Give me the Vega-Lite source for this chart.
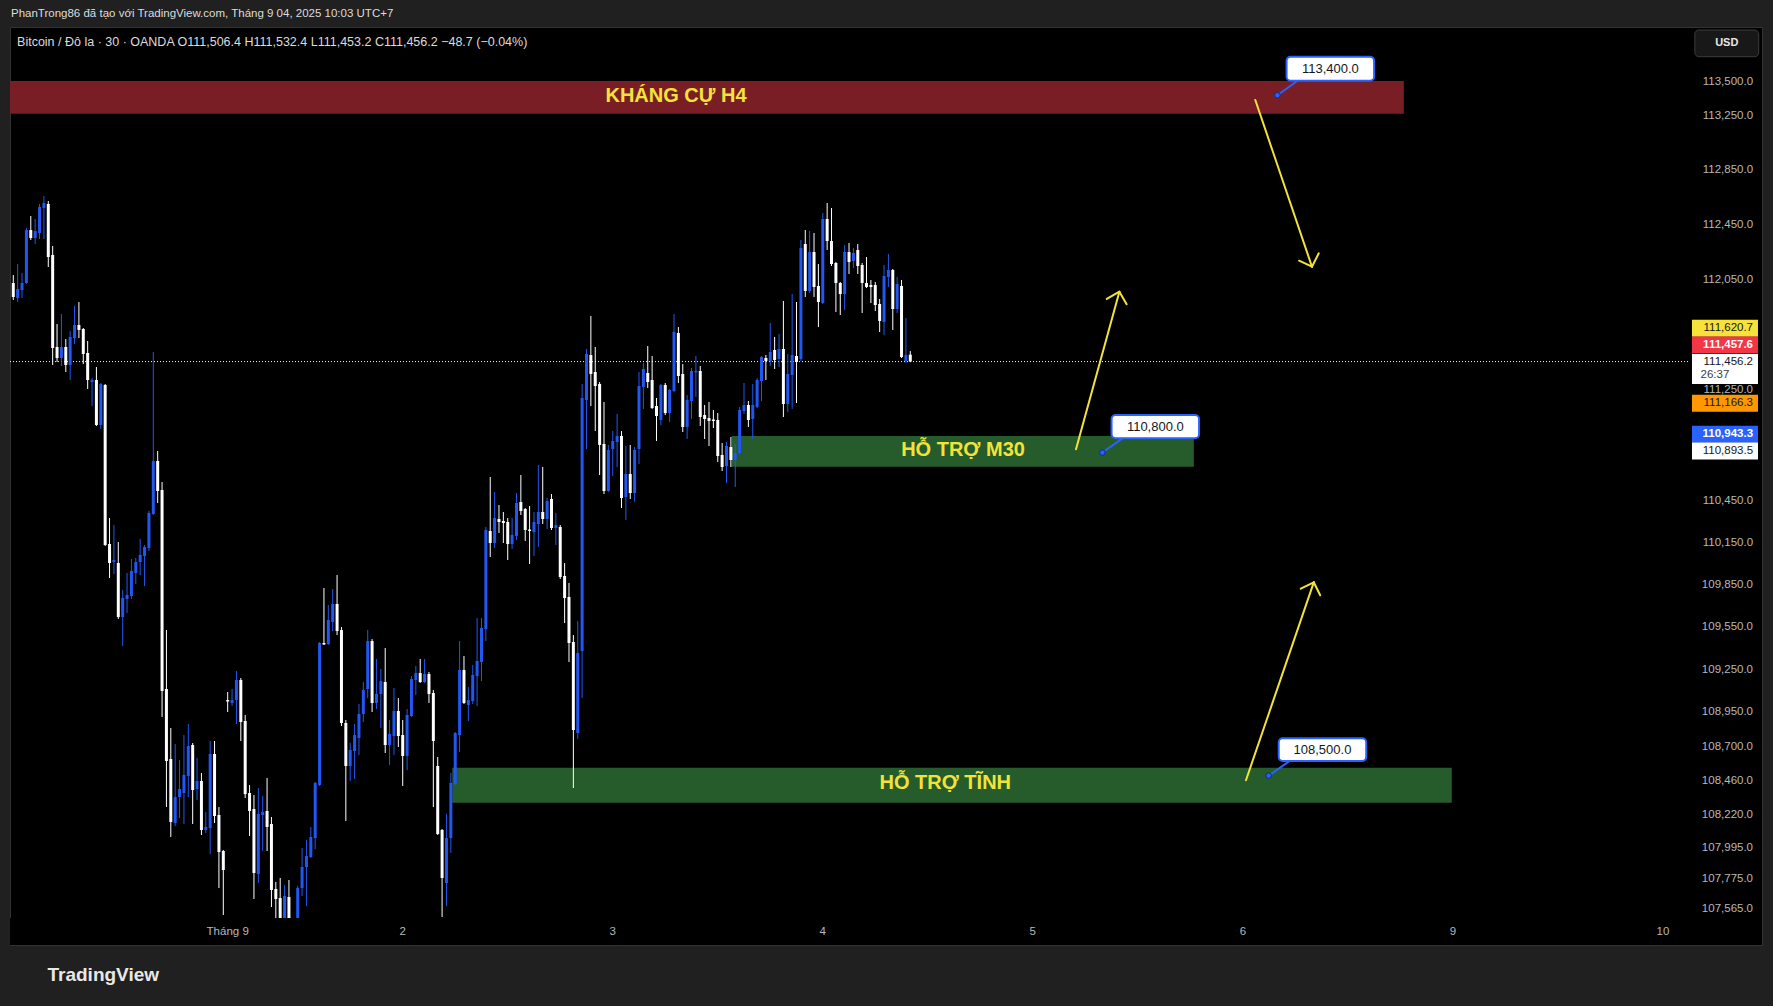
{
"$schema": "https://vega.github.io/schema/vega-lite/v6.json",
"width": 1752, "height": 918,
"autosize": {"type": "none"},
"padding": {"left": 10, "top": 27, "right": 11, "bottom": 61},
"background": "#202020",
"config": {"view": {"fill": "#000000", "stroke": "#333333", "strokeWidth": 1}, "font": "Liberation Sans"},
"datasets": {
"candles": [
{"i":1,"o":112026.3,"h":112084.5,"l":111902.7,"c":111924.5},
{"i":2,"o":111917.2,"h":112164.6,"l":111888.2,"c":111982.7},
{"i":3,"o":111975.4,"h":112099.1,"l":111917.2,"c":112026.3},
{"i":4,"o":112026.3,"h":112427.0,"l":112019.0,"c":112412.5},
{"i":5,"o":112412.5,"h":112514.6,"l":112339.5,"c":112354.1},
{"i":6,"o":112354.1,"h":112492.7,"l":112310.3,"c":112405.2},
{"i":7,"o":112390.6,"h":112602.4,"l":112346.8,"c":112580.4},
{"i":8,"o":112573.1,"h":112660.9,"l":112346.8,"c":112609.7},
{"i":9,"o":112602.4,"h":112624.3,"l":112142.7,"c":112215.6},
{"i":10,"o":112230.2,"h":112295.8,"l":111431.5,"c":111554.6},
{"i":11,"o":111561.8,"h":111728.5,"l":111453.2,"c":111482.2},
{"i":12,"o":111482.2,"h":111801.1,"l":111424.3,"c":111561.8},
{"i":13,"o":111561.8,"h":111619.8,"l":111381.0,"c":111431.5},
{"i":14,"o":111431.5,"h":111677.8,"l":111323.1,"c":111634.3},
{"i":15,"o":111627.0,"h":111859.1,"l":111583.5,"c":111721.3},
{"i":16,"o":111721.3,"h":111888.2,"l":111627.0,"c":111685.0},
{"i":17,"o":111692.3,"h":111699.5,"l":111438.8,"c":111511.1},
{"i":18,"o":111518.4,"h":111605.3,"l":111258.1,"c":111323.1},
{"i":19,"o":111308.7,"h":111337.6,"l":111135.3,"c":111323.1},
{"i":20,"o":111323.1,"h":111417.1,"l":110991.1,"c":110998.3},
{"i":21,"o":110998.3,"h":111301.4,"l":110969.5,"c":111294.2},
{"i":22,"o":111287.0,"h":111294.2,"l":110129.8,"c":110137.0},
{"i":23,"o":110144.1,"h":110330.2,"l":109901.2,"c":110008.4},
{"i":24,"o":110015.5,"h":110280.1,"l":109929.8,"c":110029.8},
{"i":25,"o":110008.4,"h":110158.4,"l":109609.0,"c":109623.3},
{"i":26,"o":109623.3,"h":109815.7,"l":109417.1,"c":109758.7},
{"i":27,"o":109751.5,"h":109937.0,"l":109651.8,"c":109780.0},
{"i":28,"o":109772.9,"h":110037.0,"l":109751.5,"c":109951.3},
{"i":29,"o":109937.0,"h":110044.1,"l":109858.4,"c":110015.5},
{"i":30,"o":110015.5,"h":110179.9,"l":109922.7,"c":110065.5},
{"i":31,"o":110058.4,"h":110137.0,"l":109844.2,"c":110122.7},
{"i":32,"o":110115.5,"h":110380.4,"l":110094.1,"c":110366.1},
{"i":33,"o":110358.9,"h":111525.6,"l":110351.8,"c":110739.2},
{"i":34,"o":110739.2,"h":110811.2,"l":110437.7,"c":110523.8},
{"i":35,"o":110531.0,"h":110588.4,"l":108914.0,"c":109098.0},
{"i":36,"o":109112.1,"h":109530.8,"l":108279.4,"c":108603.3},
{"i":37,"o":108617.4,"h":108836.2,"l":108068.8,"c":108174.1},
{"i":38,"o":108167.0,"h":108723.2,"l":108146.0,"c":108349.7},
{"i":39,"o":108349.7,"h":108610.3,"l":108202.2,"c":108405.9},
{"i":40,"o":108377.8,"h":108786.7,"l":108160.0,"c":108504.6},
{"i":41,"o":108497.5,"h":108864.4,"l":108349.7,"c":108709.1},
{"i":42,"o":108716.1,"h":108730.2,"l":108160.0,"c":108398.9},
{"i":43,"o":108405.9,"h":108624.4,"l":108328.6,"c":108462.3},
{"i":44,"o":108462.3,"h":108518.7,"l":108082.8,"c":108117.9},
{"i":45,"o":108117.9,"h":108244.3,"l":108096.8,"c":108139.0},
{"i":46,"o":108131.9,"h":108744.3,"l":107949.6,"c":108652.6},
{"i":47,"o":108652.6,"h":108744.3,"l":108167.0,"c":108216.2},
{"i":48,"o":108223.2,"h":108279.4,"l":107711.5,"c":107963.6},
{"i":49,"o":107970.6,"h":107977.6,"l":107522.9,"c":107837.5},
{"i":50,"o":109034.2,"h":109090.9,"l":108949.3,"c":109023.6},
{"i":51,"o":109013.0,"h":109112.1,"l":108991.8,"c":109034.2},
{"i":52,"o":109034.2,"h":109239.8,"l":108864.4,"c":109175.9},
{"i":53,"o":109175.9,"h":109190.1,"l":108744.3,"c":108878.6},
{"i":54,"o":108885.6,"h":108928.1,"l":108342.7,"c":108370.1},
{"i":55,"o":108377.8,"h":108434.1,"l":108075.8,"c":108251.3},
{"i":56,"o":108265.4,"h":108363.8,"l":107634.6,"c":107816.5},
{"i":57,"o":107809.5,"h":108413.0,"l":107746.5,"c":108230.3},
{"i":58,"o":108223.2,"h":108356.7,"l":107970.6,"c":108244.3},
{"i":59,"o":108251.3,"h":108483.4,"l":107970.6,"c":108139.0},
{"i":60,"o":108160.0,"h":108209.2,"l":107578.7,"c":107697.6},
{"i":61,"o":107704.5,"h":107753.5,"l":107453.2,"c":107634.6},
{"i":62,"o":107641.6,"h":107781.5,"l":107404.4,"c":107446.2},
{"i":63,"o":107439.2,"h":107732.5,"l":107390.5,"c":107655.6},
{"i":64,"o":107648.6,"h":107767.5,"l":107397.5,"c":107453.2},
{"i":65,"o":107383.5,"h":107488.0,"l":107348.6,"c":107460.1},
{"i":66,"o":107460.1,"h":107725.5,"l":107418.3,"c":107711.5},
{"i":67,"o":107711.5,"h":107991.6,"l":107655.6,"c":107858.5},
{"i":68,"o":107858.5,"h":108047.7,"l":107585.7,"c":107935.5},
{"i":69,"o":107928.5,"h":108139.0,"l":107921.5,"c":108068.8},
{"i":70,"o":108061.7,"h":108455.3,"l":107984.6,"c":108448.2},
{"i":71,"o":108434.1,"h":109445.5,"l":108427.1,"c":109438.4},
{"i":72,"o":109438.4,"h":109829.9,"l":109424.2,"c":109427.8},
{"i":73,"o":109431.3,"h":109708.8,"l":109424.2,"c":109601.9},
{"i":74,"o":109587.7,"h":109822.8,"l":109523.7,"c":109715.9},
{"i":75,"o":109715.9,"h":109922.7,"l":109495.3,"c":109523.7},
{"i":76,"o":109530.8,"h":109552.1,"l":108850.3,"c":108871.5},
{"i":77,"o":108871.5,"h":108892.7,"l":108181.1,"c":108568.0},
{"i":78,"o":108568.0,"h":108730.2,"l":108462.3,"c":108680.9},
{"i":79,"o":108673.8,"h":108864.4,"l":108476.4,"c":108786.7},
{"i":80,"o":108765.5,"h":109005.9,"l":108645.6,"c":108935.2},
{"i":81,"o":108935.2,"h":109161.7,"l":108878.6,"c":109105.0},
{"i":82,"o":109112.1,"h":109530.8,"l":109048.4,"c":109452.6},
{"i":83,"o":109452.6,"h":109466.8,"l":108949.3,"c":109013.0},
{"i":84,"o":109013.0,"h":109324.9,"l":108970.5,"c":109076.7},
{"i":85,"o":109076.7,"h":109254.0,"l":108836.2,"c":109168.8},
{"i":86,"o":109161.7,"h":109403.0,"l":108659.7,"c":108716.1},
{"i":87,"o":108716.1,"h":108892.7,"l":108575.1,"c":108793.8},
{"i":88,"o":108779.7,"h":109119.2,"l":108645.6,"c":108956.4},
{"i":89,"o":108956.4,"h":109048.4,"l":108702.0,"c":108779.7},
{"i":90,"o":108786.7,"h":108892.7,"l":108427.1,"c":108638.6},
{"i":91,"o":108638.6,"h":108970.5,"l":108539.8,"c":108928.1},
{"i":92,"o":108921.0,"h":109204.3,"l":108914.0,"c":109183.0},
{"i":93,"o":109175.9,"h":109275.3,"l":109069.6,"c":109225.6},
{"i":94,"o":109225.6,"h":109324.9,"l":109154.6,"c":109161.7},
{"i":95,"o":109161.7,"h":109324.9,"l":109154.6,"c":109218.5},
{"i":96,"o":109218.5,"h":109232.7,"l":109013.0,"c":109076.7},
{"i":97,"o":109083.8,"h":109105.0,"l":108279.4,"c":108744.3},
{"i":98,"o":108568.0,"h":108631.5,"l":108082.8,"c":108089.8},
{"i":99,"o":108117.9,"h":108125.0,"l":107509.0,"c":107781.5},
{"i":100,"o":107746.5,"h":108230.3,"l":107585.7,"c":108061.7},
{"i":101,"o":108061.7,"h":108518.7,"l":107956.6,"c":108448.2},
{"i":102,"o":108441.1,"h":108807.9,"l":108434.1,"c":108800.8},
{"i":103,"o":108786.7,"h":109452.6,"l":108666.8,"c":109246.9},
{"i":104,"o":109246.9,"h":109346.2,"l":109005.9,"c":109013.0},
{"i":105,"o":108998.8,"h":109126.2,"l":108885.6,"c":109034.2},
{"i":106,"o":109027.1,"h":109282.4,"l":109005.9,"c":109211.4},
{"i":107,"o":109204.3,"h":109616.2,"l":108991.8,"c":109310.7},
{"i":108,"o":109303.6,"h":109616.2,"l":109168.8,"c":109545.0},
{"i":109,"o":109537.9,"h":110265.8,"l":109452.6,"c":110244.1},
{"i":110,"o":110237.1,"h":110624.3,"l":110051.2,"c":110151.3},
{"i":111,"o":110151.3,"h":110516.6,"l":110115.5,"c":110330.2},
{"i":112,"o":110323.1,"h":110423.4,"l":110222.6,"c":110301.6},
{"i":113,"o":110308.8,"h":110373.2,"l":110151.3,"c":110294.5},
{"i":114,"o":110301.6,"h":110330.2,"l":110029.8,"c":110144.1},
{"i":115,"o":110144.1,"h":110330.2,"l":110108.4,"c":110208.5},
{"i":116,"o":110201.4,"h":110509.4,"l":110172.7,"c":110437.7},
{"i":117,"o":110444.9,"h":110638.6,"l":110351.8,"c":110380.4},
{"i":118,"o":110394.7,"h":110401.9,"l":110165.6,"c":110244.1},
{"i":119,"o":110247.7,"h":110416.2,"l":110001.3,"c":110237.1},
{"i":120,"o":110229.9,"h":110373.2,"l":110058.4,"c":110301.6},
{"i":121,"o":110287.3,"h":110710.5,"l":110122.7,"c":110373.2},
{"i":122,"o":110373.2,"h":110696.1,"l":110287.3,"c":110323.1},
{"i":123,"o":110323.1,"h":110473.6,"l":110251.2,"c":110452.0},
{"i":124,"o":110466.4,"h":110502.2,"l":110244.1,"c":110258.4},
{"i":125,"o":110258.4,"h":110366.1,"l":110137.0,"c":110280.1},
{"i":126,"o":110265.8,"h":110280.1,"l":109894.0,"c":109908.3},
{"i":127,"o":109915.5,"h":110008.4,"l":109580.6,"c":109758.7},
{"i":128,"o":109765.8,"h":109865.6,"l":109303.6,"c":109438.4},
{"i":129,"o":109445.5,"h":109495.3,"l":108413.0,"c":108822.1},
{"i":130,"o":108800.8,"h":109594.8,"l":108758.4,"c":109367.5},
{"i":131,"o":109381.7,"h":111294.2,"l":109048.4,"c":111193.1},
{"i":132,"o":111178.6,"h":111547.3,"l":110825.7,"c":111511.1},
{"i":133,"o":111503.9,"h":111786.5,"l":111135.3,"c":111366.5},
{"i":134,"o":111381.0,"h":111561.8,"l":110955.1,"c":111279.8},
{"i":135,"o":111294.2,"h":111308.7,"l":110638.6,"c":110854.3},
{"i":136,"o":110861.5,"h":111164.2,"l":110502.2,"c":110523.8},
{"i":137,"o":110523.8,"h":110854.3,"l":110516.6,"c":110818.4},
{"i":138,"o":110825.7,"h":110955.1,"l":110631.5,"c":110883.1},
{"i":139,"o":110875.9,"h":111077.6,"l":110696.1,"c":110919.1},
{"i":140,"o":110919.1,"h":110955.1,"l":110401.9,"c":110473.6},
{"i":141,"o":110480.8,"h":110847.1,"l":110315.9,"c":110645.8},
{"i":142,"o":110645.8,"h":110854.3,"l":110466.4,"c":110509.4},
{"i":143,"o":110509.4,"h":110839.9,"l":110444.9,"c":110818.4},
{"i":144,"o":110825.7,"h":111381.0,"l":110717.7,"c":111279.8},
{"i":145,"o":111272.5,"h":111446.0,"l":111113.7,"c":111402.6},
{"i":146,"o":111373.8,"h":111569.0,"l":111265.3,"c":111308.7},
{"i":147,"o":111323.1,"h":111496.7,"l":111113.7,"c":111120.9},
{"i":148,"o":111135.3,"h":111193.1,"l":110883.1,"c":111063.2},
{"i":149,"o":111034.3,"h":111294.2,"l":110998.3,"c":111287.0},
{"i":150,"o":111287.0,"h":111301.4,"l":111070.4,"c":111084.8},
{"i":151,"o":111084.8,"h":111258.1,"l":111019.9,"c":111250.9},
{"i":152,"o":111243.6,"h":111801.1,"l":111236.4,"c":111670.5},
{"i":153,"o":111663.3,"h":111706.8,"l":111301.4,"c":111352.0},
{"i":154,"o":111366.5,"h":111438.8,"l":110947.9,"c":110983.9},
{"i":155,"o":110983.9,"h":111214.7,"l":110897.5,"c":111178.6},
{"i":156,"o":111171.4,"h":111409.9,"l":111041.5,"c":111388.2},
{"i":157,"o":111377.4,"h":111496.7,"l":111200.3,"c":111388.2},
{"i":158,"o":111388.2,"h":111424.3,"l":110991.1,"c":111056.0},
{"i":159,"o":111070.4,"h":111142.5,"l":110897.5,"c":111041.5},
{"i":160,"o":111048.7,"h":111164.2,"l":110847.1,"c":111027.1},
{"i":161,"o":111037.9,"h":111106.5,"l":110976.7,"c":111027.1},
{"i":162,"o":111034.3,"h":111084.8,"l":110732.0,"c":110775.2},
{"i":163,"o":110782.4,"h":110868.7,"l":110667.3,"c":110696.1},
{"i":164,"o":110703.3,"h":110875.9,"l":110581.2,"c":110847.1},
{"i":165,"o":110839.9,"h":110911.9,"l":110696.1,"c":110746.4},
{"i":166,"o":110746.4,"h":110861.5,"l":110552.5,"c":110796.8},
{"i":167,"o":110796.8,"h":111128.1,"l":110789.6,"c":111106.5},
{"i":168,"o":111099.2,"h":111301.4,"l":111077.6,"c":111142.5},
{"i":169,"o":111142.5,"h":111171.4,"l":110983.9,"c":111034.3},
{"i":170,"o":111041.5,"h":111294.2,"l":110897.5,"c":111142.5},
{"i":171,"o":111128.1,"h":111337.6,"l":111120.9,"c":111323.1},
{"i":172,"o":111315.9,"h":111496.7,"l":111171.4,"c":111489.4},
{"i":173,"o":111482.2,"h":111503.9,"l":111323.1,"c":111460.5},
{"i":174,"o":111460.5,"h":111735.8,"l":111424.3,"c":111525.6},
{"i":175,"o":111540.1,"h":111634.3,"l":111402.6,"c":111467.7},
{"i":176,"o":111474.9,"h":111656.0,"l":111417.1,"c":111547.3},
{"i":177,"o":111547.3,"h":111895.4,"l":111056.0,"c":111150.0},
{"i":178,"o":111150.0,"h":111511.1,"l":111092.0,"c":111366.5},
{"i":179,"o":111359.3,"h":111946.3,"l":111113.7,"c":111503.9},
{"i":180,"o":111496.7,"h":111888.2,"l":111157.0,"c":111453.2},
{"i":181,"o":111474.9,"h":112339.5,"l":111460.5,"c":112281.2},
{"i":182,"o":112310.3,"h":112412.5,"l":111924.5,"c":111968.1},
{"i":183,"o":111968.1,"h":112405.2,"l":111953.6,"c":112252.1},
{"i":184,"o":112252.1,"h":112390.6,"l":111924.5,"c":111997.2},
{"i":185,"o":112004.5,"h":112164.6,"l":111706.8,"c":111888.2},
{"i":186,"o":111880.9,"h":112536.6,"l":111873.7,"c":112492.7},
{"i":187,"o":112492.7,"h":112609.7,"l":112266.6,"c":112332.2},
{"i":188,"o":112332.2,"h":112573.1,"l":112150.0,"c":112164.6},
{"i":189,"o":112171.9,"h":112179.1,"l":111815.6,"c":112026.3},
{"i":190,"o":112026.3,"h":112033.6,"l":111793.8,"c":111946.3},
{"i":191,"o":111946.3,"h":112303.0,"l":111830.1,"c":112252.1},
{"i":192,"o":112252.1,"h":112317.6,"l":112091.8,"c":112179.1},
{"i":193,"o":112186.4,"h":112281.2,"l":112135.4,"c":112244.8},
{"i":194,"o":112266.6,"h":112310.3,"l":112091.8,"c":112150.0},
{"i":195,"o":112157.3,"h":112171.9,"l":111808.4,"c":112026.3},
{"i":196,"o":112026.3,"h":112215.6,"l":111990.0,"c":111997.2},
{"i":197,"o":112011.8,"h":112048.1,"l":111880.9,"c":111997.2},
{"i":198,"o":112011.8,"h":112033.6,"l":111822.9,"c":111866.4},
{"i":199,"o":111873.7,"h":111910.0,"l":111670.5,"c":111750.3},
{"i":200,"o":111743.0,"h":112157.3,"l":111648.7,"c":112077.2},
{"i":201,"o":112070.0,"h":112237.5,"l":111997.2,"c":112120.9},
{"i":202,"o":112120.9,"h":112128.2,"l":111685.0,"c":111837.3},
{"i":203,"o":111837.3,"h":112070.0,"l":111808.4,"c":112019.0},
{"i":204,"o":112004.5,"h":112048.1,"l":111482.2,"c":111489.4},
{"i":205,"o":111460.5,"h":111772.0,"l":111446.0,"c":111505.0},
{"i":206,"o":111506.4,"h":111532.4,"l":111453.2,"c":111456.2}
],
"zones": [
{"zone":"resistance","i1":0.25,"i2":318.8,"p1":113265,"p2":113505},
{"zone":"support","i1":165.2,"i2":270.8,"p1":110698,"p2":110919},
{"zone":"support","i1":101.33,"i2":329.75,"p1":108308.9,"p2":108555.3}
],
"zoneLabels": [
{"t":"KHÁNG CỰ H4","i":152.45,"p":113394.7},
{"t":"HỖ TRỢ M30","i":218.05,"p":110818.3},
{"t":"HỖ TRỢ TĨNH","i":214.0,"p":108451.7}
],
"arrows": [
{"i1":284.85,"p1":113365.2,"i2":297.8,"p2":112144.9},
{"i1":297.8,"p1":112144.9,"i2":294.85,"p2":112188.6},
{"i1":297.8,"p1":112144.9,"i2":299.35,"p2":112242.5},
{"i1":243.87,"p1":110823.4,"i2":253.79,"p2":111963.0},
{"i1":253.79,"p1":111963.0,"i2":250.91,"p2":111910.7},
{"i1":253.79,"p1":111963.0,"i2":255.44,"p2":111871.5},
{"i1":282.72,"p1":108467.9,"i2":298.21,"p2":109870.5},
{"i1":298.21,"p1":109870.5,"i2":295.24,"p2":109824.9},
{"i1":298.21,"p1":109870.5,"i2":299.68,"p2":109777.9}
],
"notes": [
{"p":113400,"di":289.9,"qi":294.5,"bi1":292.0,"bi2":312.0,"bpTop":113684.4,"bpBot":113507.4,"ci":302.0,"cp":113595.8},
{"p":110800,"di":249.9,"qi":254.5,"bi1":252.0,"bi2":272.0,"bpTop":111070.4,"bpBot":110902.5,"ci":262.0,"cp":110986.4},
{"p":108500,"di":287.9,"qi":292.7,"bi1":290.2,"bi2":310.2,"bpTop":108763.4,"bpBot":108603.3,"ci":300.2,"cp":108683.3}
],
"days": [
{"t":"Tháng 9","i":50,"p":107404.3},
{"t":"2","i":90,"p":107404.3},
{"t":"3","i":138,"p":107404.3},
{"t":"4","i":186,"p":107404.3},
{"t":"5","i":234,"p":107404.3},
{"t":"6","i":282,"p":107404.3},
{"t":"9","i":330,"p":107404.3},
{"t":"10","i":378,"p":107404.3}
],
"priceTicks": [
{"p":113500},{"p":113250},{"p":112850},{"p":112450},{"p":112050},{"p":111250},{"p":110450},{"p":110150},{"p":109850},{"p":109550},{"p":109250},{"p":108950},{"p":108700},{"p":108460},{"p":108220},{"p":107995},{"p":107775},{"p":107565}
]
},
"layer": [
{"data": {"name": "zones"}, "mark": {"type": "rect", "clip": true},
 "encoding": {
  "x": {"field": "i1", "type": "quantitative", "scale": {"type": "linear", "domain": [0.25, 400.65], "nice": false, "zero": false, "padding": 0}, "axis": null},
  "x2": {"field": "i2"},
  "y": {"field": "p1", "type": "quantitative", "scale": {"type": "log", "domain": [107313.7, 113903.8], "nice": false, "padding": 0}, "axis": null},
  "y2": {"field": "p2"},
  "color": {"condition": {"test": "datum.zone == 'resistance'", "value": "#7a1e26"}, "value": "#265b2b"}}},
{"data": {"values": [{"p": 111456.2, "i1": 0.25, "i2": 384.2}]}, "mark": {"type": "rule", "color": "#ffffff", "strokeDash": [1, 2], "strokeWidth": 1},
 "encoding": {
  "x": {"field": "i1", "type": "quantitative", "scale": {"type": "linear", "domain": [0.25, 400.65], "nice": false, "zero": false, "padding": 0}, "axis": null},
  "x2": {"field": "i2"},
  "y": {"field": "p", "type": "quantitative", "scale": {"type": "log", "domain": [107313.7, 113903.8], "nice": false, "padding": 0}, "axis": null}}},
{"data": {"name": "candles"}, "mark": {"type": "rule", "strokeWidth": 1, "clip": true},
 "encoding": {
  "x": {"field": "i", "type": "quantitative", "scale": {"type": "linear", "domain": [0.25, 400.65], "nice": false, "zero": false, "padding": 0}, "axis": null},
  "y": {"field": "l", "type": "quantitative", "scale": {"type": "log", "domain": [107313.7, 113903.8], "nice": false, "padding": 0}, "axis": null},
  "y2": {"field": "h"},
  "color": {"condition": {"test": "datum.c >= datum.o", "value": "#2157f3"}, "value": "#ffffff"}}},
{"data": {"name": "candles"}, "mark": {"type": "bar", "size": 3, "clip": true},
 "encoding": {
  "x": {"field": "i", "type": "quantitative", "scale": {"type": "linear", "domain": [0.25, 400.65], "nice": false, "zero": false, "padding": 0}, "axis": null},
  "y": {"field": "o", "type": "quantitative", "scale": {"type": "log", "domain": [107313.7, 113903.8], "nice": false, "padding": 0}, "axis": null},
  "y2": {"field": "c"},
  "color": {"condition": {"test": "datum.c >= datum.o", "value": "#2157f3"}, "value": "#ffffff"}}},
{"data": {"values": [{"i1": 0.25, "i2": 400.65, "p1": 107313.7, "p2": 107502}]}, "mark": {"type": "rect", "color": "#000000"},
 "encoding": {
  "x": {"field": "i1", "type": "quantitative", "scale": {"type": "linear", "domain": [0.25, 400.65], "nice": false, "zero": false, "padding": 0}, "axis": null},
  "x2": {"field": "i2"},
  "y": {"field": "p1", "type": "quantitative", "scale": {"type": "log", "domain": [107313.7, 113903.8], "nice": false, "padding": 0}, "axis": null},
  "y2": {"field": "p2"}}},
{"data": {"name": "days"}, "mark": {"type": "text", "font": "Liberation Sans", "fontSize": 11.5, "color": "#b8b8b8", "align": "center", "baseline": "middle"},
 "encoding": {
  "x": {"field": "i", "type": "quantitative", "scale": {"type": "linear", "domain": [0.25, 400.65], "nice": false, "zero": false, "padding": 0}, "axis": null},
  "y": {"field": "p", "type": "quantitative", "scale": {"type": "log", "domain": [107313.7, 113903.8], "nice": false, "padding": 0}, "axis": null},
  "text": {"field": "t"}}},
{"data": {"name": "priceTicks"}, "mark": {"type": "text", "font": "Liberation Sans", "fontSize": 11.5, "color": "#b8b8b8", "align": "right", "baseline": "middle"},
 "encoding": {
  "x": {"datum": 398.6, "type": "quantitative", "scale": {"type": "linear", "domain": [0.25, 400.65], "nice": false, "zero": false, "padding": 0}, "axis": null},
  "y": {"field": "p", "type": "quantitative", "scale": {"type": "log", "domain": [107313.7, 113903.8], "nice": false, "padding": 0}, "axis": null},
  "text": {"field": "p", "type": "quantitative", "format": ",.1f"}}},
{"data": {"name": "zoneLabels"}, "mark": {"type": "text", "font": "Liberation Sans", "fontSize": 20, "fontWeight": "bold", "color": "#f2e33a", "align": "center", "baseline": "middle"},
 "encoding": {
  "x": {"field": "i", "type": "quantitative", "scale": {"type": "linear", "domain": [0.25, 400.65], "nice": false, "zero": false, "padding": 0}, "axis": null},
  "y": {"field": "p", "type": "quantitative", "scale": {"type": "log", "domain": [107313.7, 113903.8], "nice": false, "padding": 0}, "axis": null},
  "text": {"field": "t"}}},
{"data": {"name": "arrows"}, "mark": {"type": "rule", "color": "#f2e33a", "strokeWidth": 2, "strokeCap": "round"},
 "encoding": {
  "x": {"field": "i1", "type": "quantitative", "scale": {"type": "linear", "domain": [0.25, 400.65], "nice": false, "zero": false, "padding": 0}, "axis": null},
  "x2": {"field": "i2"},
  "y": {"field": "p1", "type": "quantitative", "scale": {"type": "log", "domain": [107313.7, 113903.8], "nice": false, "padding": 0}, "axis": null},
  "y2": {"field": "p2"}}},
{"data": {"name": "notes"},
 "layer": [
  {"mark": {"type": "rule", "color": "#2962ff", "strokeWidth": 2},
   "encoding": {
    "x": {"field": "di", "type": "quantitative", "scale": {"type": "linear", "domain": [0.25, 400.65], "nice": false, "zero": false, "padding": 0}, "axis": null},
    "x2": {"field": "qi"},
    "y": {"field": "p", "type": "quantitative", "scale": {"type": "log", "domain": [107313.7, 113903.8], "nice": false, "padding": 0}, "axis": null},
    "y2": {"field": "bpBot"}}},
  {"mark": {"type": "rect", "fill": "#ffffff", "stroke": "#2962ff", "strokeWidth": 2, "cornerRadius": 4},
   "encoding": {
    "x": {"field": "bi1", "type": "quantitative", "scale": {"type": "linear", "domain": [0.25, 400.65], "nice": false, "zero": false, "padding": 0}, "axis": null},
    "x2": {"field": "bi2"},
    "y": {"field": "bpTop", "type": "quantitative", "scale": {"type": "log", "domain": [107313.7, 113903.8], "nice": false, "padding": 0}, "axis": null},
    "y2": {"field": "bpBot"}}},
  {"mark": {"type": "circle", "size": 30, "color": "#2962ff", "stroke": "#0d2a8c", "strokeWidth": 1, "opacity": 1},
   "encoding": {
    "x": {"field": "di", "type": "quantitative", "scale": {"type": "linear", "domain": [0.25, 400.65], "nice": false, "zero": false, "padding": 0}, "axis": null},
    "y": {"field": "p", "type": "quantitative", "scale": {"type": "log", "domain": [107313.7, 113903.8], "nice": false, "padding": 0}, "axis": null}}},
  {"mark": {"type": "text", "font": "Liberation Sans", "fontSize": 13, "color": "#131722", "align": "center", "baseline": "middle"},
   "encoding": {
    "x": {"field": "ci", "type": "quantitative", "scale": {"type": "linear", "domain": [0.25, 400.65], "nice": false, "zero": false, "padding": 0}, "axis": null},
    "y": {"field": "cp", "type": "quantitative", "scale": {"type": "log", "domain": [107313.7, 113903.8], "nice": false, "padding": 0}, "axis": null},
    "text": {"field": "p", "type": "quantitative", "format": ",.1f"}}}
 ]},
{"data": {"values": [{"v": 111620.7}]},
 "encoding": {"y": {"field": "v", "type": "quantitative", "scale": {"type": "log", "domain": [107313.7, 113903.8], "nice": false, "padding": 0}, "axis": null}},
 "layer": [
  {"mark": {"type": "tick", "orient": "horizontal", "size": 66, "thickness": 17, "color": "#f7e23a", "opacity": 1, "yOffset": -10.6},
   "encoding": {"x": {"datum": 392.19, "type": "quantitative", "scale": {"type": "linear", "domain": [0.25, 400.65], "nice": false, "zero": false, "padding": 0}, "axis": null}}},
  {"mark": {"type": "text", "align": "right", "baseline": "middle", "font": "Liberation Sans", "fontSize": 11.5, "color": "#131722", "yOffset": -10.6},
   "encoding": {"x": {"datum": 398.6, "type": "quantitative", "scale": {"type": "linear", "domain": [0.25, 400.65], "nice": false, "zero": false, "padding": 0}, "axis": null}, "text": {"field": "v", "type": "quantitative", "format": ",.1f"}}}
 ]},
{"data": {"values": [{"v": 111457.6}]},
 "encoding": {"y": {"field": "v", "type": "quantitative", "scale": {"type": "log", "domain": [107313.7, 113903.8], "nice": false, "padding": 0}, "axis": null}},
 "layer": [
  {"mark": {"type": "tick", "orient": "horizontal", "size": 66, "thickness": 17, "color": "#f23645", "opacity": 1, "yOffset": -16.4},
   "encoding": {"x": {"datum": 392.19, "type": "quantitative", "scale": {"type": "linear", "domain": [0.25, 400.65], "nice": false, "zero": false, "padding": 0}, "axis": null}}},
  {"mark": {"type": "text", "align": "right", "baseline": "middle", "font": "Liberation Sans", "fontSize": 11.5, "fontWeight": "bold", "color": "#ffffff", "yOffset": -16.4},
   "encoding": {"x": {"datum": 398.6, "type": "quantitative", "scale": {"type": "linear", "domain": [0.25, 400.65], "nice": false, "zero": false, "padding": 0}, "axis": null}, "text": {"field": "v", "type": "quantitative", "format": ",.1f"}}}
 ]},
{"data": {"values": [{"v": 111456.2, "t": "26:37"}]},
 "encoding": {"y": {"field": "v", "type": "quantitative", "scale": {"type": "log", "domain": [107313.7, 113903.8], "nice": false, "padding": 0}, "axis": null}},
 "layer": [
  {"mark": {"type": "tick", "orient": "horizontal", "size": 66, "thickness": 30, "color": "#ffffff", "opacity": 1, "yOffset": 7.4},
   "encoding": {"x": {"datum": 392.19, "type": "quantitative", "scale": {"type": "linear", "domain": [0.25, 400.65], "nice": false, "zero": false, "padding": 0}, "axis": null}}},
  {"mark": {"type": "text", "align": "right", "baseline": "middle", "font": "Liberation Sans", "fontSize": 11.5, "color": "#131722"},
   "encoding": {"x": {"datum": 398.6, "type": "quantitative", "scale": {"type": "linear", "domain": [0.25, 400.65], "nice": false, "zero": false, "padding": 0}, "axis": null}, "text": {"field": "v", "type": "quantitative", "format": ",.1f"}}},
  {"mark": {"type": "text", "align": "left", "baseline": "middle", "font": "Liberation Sans", "fontSize": 11.5, "color": "#3a3e4a", "yOffset": 13.5},
   "encoding": {"x": {"datum": 386.6, "type": "quantitative", "scale": {"type": "linear", "domain": [0.25, 400.65], "nice": false, "zero": false, "padding": 0}, "axis": null}, "text": {"field": "t"}}}
 ]},
{"data": {"values": [{"v": 111166.3}]},
 "encoding": {"y": {"field": "v", "type": "quantitative", "scale": {"type": "log", "domain": [107313.7, 113903.8], "nice": false, "padding": 0}, "axis": null}},
 "layer": [
  {"mark": {"type": "tick", "orient": "horizontal", "size": 66, "thickness": 17, "color": "#ff9800", "opacity": 1, "yOffset": 1.6},
   "encoding": {"x": {"datum": 392.19, "type": "quantitative", "scale": {"type": "linear", "domain": [0.25, 400.65], "nice": false, "zero": false, "padding": 0}, "axis": null}}},
  {"mark": {"type": "text", "align": "right", "baseline": "middle", "font": "Liberation Sans", "fontSize": 11.5, "color": "#131722", "yOffset": 1.6},
   "encoding": {"x": {"datum": 398.6, "type": "quantitative", "scale": {"type": "linear", "domain": [0.25, 400.65], "nice": false, "zero": false, "padding": 0}, "axis": null}, "text": {"field": "v", "type": "quantitative", "format": ",.1f"}}}
 ]},
{"data": {"values": [{"v": 110943.3}]},
 "encoding": {"y": {"field": "v", "type": "quantitative", "scale": {"type": "log", "domain": [107313.7, 113903.8], "nice": false, "padding": 0}, "axis": null}},
 "layer": [
  {"mark": {"type": "tick", "orient": "horizontal", "size": 66, "thickness": 17, "color": "#2962ff", "opacity": 1, "yOffset": 1.7},
   "encoding": {"x": {"datum": 392.19, "type": "quantitative", "scale": {"type": "linear", "domain": [0.25, 400.65], "nice": false, "zero": false, "padding": 0}, "axis": null}}},
  {"mark": {"type": "text", "align": "right", "baseline": "middle", "font": "Liberation Sans", "fontSize": 11.5, "fontWeight": "bold", "color": "#ffffff", "yOffset": 1.7},
   "encoding": {"x": {"datum": 398.6, "type": "quantitative", "scale": {"type": "linear", "domain": [0.25, 400.65], "nice": false, "zero": false, "padding": 0}, "axis": null}, "text": {"field": "v", "type": "quantitative", "format": ",.1f"}}}
 ]},
{"data": {"values": [{"v": 110893.5}]},
 "encoding": {"y": {"field": "v", "type": "quantitative", "scale": {"type": "log", "domain": [107313.7, 113903.8], "nice": false, "padding": 0}, "axis": null}},
 "layer": [
  {"mark": {"type": "tick", "orient": "horizontal", "size": 66, "thickness": 17, "color": "#ffffff", "opacity": 1, "yOffset": 11.4},
   "encoding": {"x": {"datum": 392.19, "type": "quantitative", "scale": {"type": "linear", "domain": [0.25, 400.65], "nice": false, "zero": false, "padding": 0}, "axis": null}}},
  {"mark": {"type": "text", "align": "right", "baseline": "middle", "font": "Liberation Sans", "fontSize": 11.5, "color": "#131722", "yOffset": 11.4},
   "encoding": {"x": {"datum": 398.6, "type": "quantitative", "scale": {"type": "linear", "domain": [0.25, 400.65], "nice": false, "zero": false, "padding": 0}, "axis": null}, "text": {"field": "v", "type": "quantitative", "format": ",.1f"}}}
 ]},
{"data": {"values": [{"i1": 385.3, "i2": 399.9, "p1": 113684.4, "p2": 113881.6, "ci": 392.6, "cp": 113783.3, "t": "USD"}]},
 "layer": [
  {"mark": {"type": "rect", "fill": "#181818", "stroke": "#3c3c3c", "strokeWidth": 1, "cornerRadius": 4},
   "encoding": {
    "x": {"field": "i1", "type": "quantitative", "scale": {"type": "linear", "domain": [0.25, 400.65], "nice": false, "zero": false, "padding": 0}, "axis": null},
    "x2": {"field": "i2"},
    "y": {"field": "p1", "type": "quantitative", "scale": {"type": "log", "domain": [107313.7, 113903.8], "nice": false, "padding": 0}, "axis": null},
    "y2": {"field": "p2"}}},
  {"mark": {"type": "text", "font": "Liberation Sans", "fontSize": 11, "fontWeight": "bold", "color": "#e8e8e8", "align": "center", "baseline": "middle"},
   "encoding": {
    "x": {"field": "ci", "type": "quantitative", "scale": {"type": "linear", "domain": [0.25, 400.65], "nice": false, "zero": false, "padding": 0}, "axis": null},
    "y": {"field": "cp", "type": "quantitative", "scale": {"type": "log", "domain": [107313.7, 113903.8], "nice": false, "padding": 0}, "axis": null},
    "text": {"field": "t"}}}
 ]},
{"data": {"values": [
  {"i": 1.86, "p": 113792.9, "t": "Bitcoin / Đô la · 30 · OANDA  O111,506.4  H111,532.4  L111,453.2  C111,456.2  −48.7 (−0.04%)", "role": "legend"},
  {"i": 0.48, "p": 114000.0, "t": "PhanTrong86 đã tạo với TradingView.com, Tháng 9 04, 2025 10:03 UTC+7", "role": "credit"}]},
 "mark": {"type": "text", "font": "Liberation Sans", "align": "left", "baseline": "middle"},
 "encoding": {
  "x": {"field": "i", "type": "quantitative", "scale": {"type": "linear", "domain": [0.25, 400.65], "nice": false, "zero": false, "padding": 0}, "axis": null},
  "y": {"field": "p", "type": "quantitative", "scale": {"type": "log", "domain": [107313.7, 113903.8], "nice": false, "padding": 0}, "axis": null},
  "text": {"field": "t"},
  "color": {"value": "#dcdcdc"},
  "size": {"condition": {"test": "datum.role == 'credit'", "value": 11.5}, "value": 12.5},
  "fontWeight": {"condition": {"test": "datum.role == 'credit'", "value": "bold"}, "value": "normal"}}},
{"data": {"values": [{"i": 8.82, "p": 107106.8, "t": "TradingView"}]},
 "mark": {"type": "text", "font": "Liberation Sans", "fontSize": 19, "fontWeight": "bold", "color": "#e8e8e8", "align": "left", "baseline": "middle"},
 "encoding": {
  "x": {"field": "i", "type": "quantitative", "scale": {"type": "linear", "domain": [0.25, 400.65], "nice": false, "zero": false, "padding": 0}, "axis": null},
  "y": {"field": "p", "type": "quantitative", "scale": {"type": "log", "domain": [107313.7, 113903.8], "nice": false, "padding": 0}, "axis": null},
  "text": {"field": "t"}}}
]
}
